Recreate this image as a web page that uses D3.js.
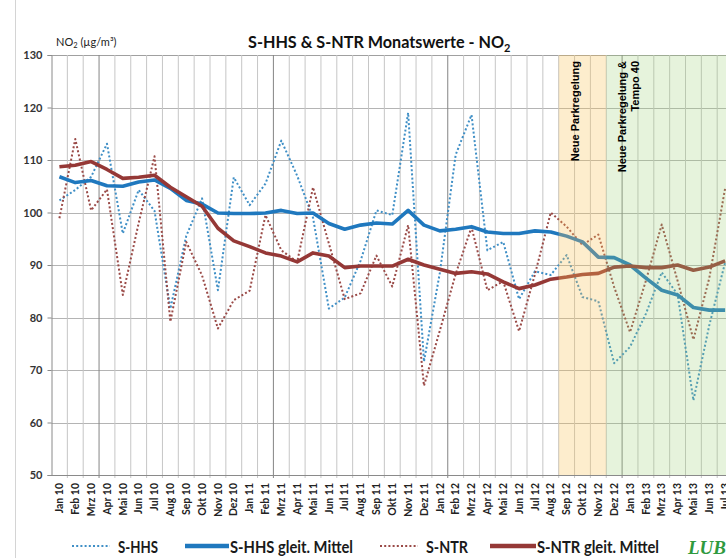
<!DOCTYPE html>
<html>
<head>
<meta charset="utf-8">
<script src="https://cdn.jsdelivr.net/npm/d3@7"></script>
<style>
  body { margin: 0; background: #fff; }
  svg { display: block; font-family: Lato, "Liberation Sans", sans-serif; }
</style>
</head>
<body>
<script>
//month labels (Jan 10 .. Jul 13)
var months = ["Jan 10","Feb 10","Mrz 10","Apr 10","Mai 10","Jun 10","Jul 10","Aug 10","Sep 10","Okt 10","Nov 10","Dez 10",
              "Jan 11","Feb 11","Mrz 11","Apr 11","Mai 11","Jun 11","Jul 11","Aug 11","Sep 11","Okt 11","Nov 11","Dez 11",
              "Jan 12","Feb 12","Mrz 12","Apr 12","Mai 12","Jun 12","Jul 12","Aug 12","Sep 12","Okt 12","Nov 12","Dez 12",
              "Jan 13","Feb 13","Mrz 13","Apr 13","Mai 13","Jun 13","Jul 13"];

//monthly values S-HHS
var shhs = [102.3,104.3,106.8,113.1,96.0,104.3,100.3,81.7,95.5,102.7,85.2,106.7,
            101.4,105.5,113.7,107.0,99.0,81.7,83.8,90.8,100.4,99.5,119.0,71.6,
            88.5,111.0,118.6,92.8,94.4,83.5,88.8,88.1,91.9,83.9,83.1,71.3,
            74.4,80.7,88.6,84.4,64.2,78.5,90.5];

//moving average S-HHS
var shhsAvg = [106.8,105.7,106.1,105.1,105.0,105.8,106.2,104.6,102.3,101.6,99.9,99.8,
               99.8,99.9,100.4,99.8,99.9,97.9,96.8,97.6,98.0,97.8,100.4,97.6,
               96.5,96.8,97.3,96.3,96.0,96.0,96.5,96.3,95.5,94.4,91.5,91.4,
               90.0,87.5,85.2,84.3,81.9,81.4,81.4];

//monthly values S-NTR
var sntr = [98.9,114.0,100.4,104.4,84.3,98.0,110.7,79.2,94.4,88.0,77.9,83.3,
            85.1,99.5,92.8,90.6,104.8,94.1,83.5,84.6,91.8,85.9,97.6,67.0,
            77.5,88.3,97.2,85.2,86.9,77.4,88.2,100.0,97.3,93.8,95.8,85.8,
            77.2,87.0,97.7,87.0,75.8,87.5,104.6];

//moving average S-NTR
var sntrAvg = [108.7,109.0,109.7,108.2,106.5,106.7,107.1,104.8,103.0,101.2,97.0,94.6,
               93.5,92.3,91.7,90.6,92.3,91.7,89.5,89.8,89.8,89.8,91.1,90.0,
               89.2,88.4,88.7,88.3,86.8,85.5,86.2,87.3,87.7,88.2,88.4,89.6,
               89.8,89.5,89.5,90.0,89.0,89.6,90.8];

var yTicks = [50, 60, 70, 80, 90, 100, 110, 120, 130];

//measure periods
var periodYellow = { from: "Sep 12", to: "Nov 12", label: ["Neue Parkregelung"] };
var periodGreen  = { from: "Dez 12", to: "Jul 13", label: ["Neue Parkregelung &", "Tempo 40"] };

var svgW = 726, svgH = 558;
var plotL = 51.5, plotT = 55, plotB = 475, band = 15.85;
var plotR = plotL + months.length * band;

var svg = d3.select("body").append("svg")
  .attr("width", svgW)
  .attr("height", svgH);

//outer frame line
svg.append("line")
  .attr("x1", 15.5).attr("x2", 15.5).attr("y1", 0).attr("y2", svgH)
  .attr("stroke", "#d4d4d4");

var x = d3.scaleBand().domain(months).range([plotL, plotR]);
var y = d3.scaleLinear().domain([50, 130]).range([plotB, plotT]);

//horizontal gridlines
svg.append("g").selectAll("line")
  .data(yTicks)
  .enter().append("line")
  .attr("x1", plotL).attr("x2", plotR)
  .attr("y1", function(d){ return Math.round(y(d)) + 0.5; })
  .attr("y2", function(d){ return Math.round(y(d)) + 0.5; })
  .attr("stroke", function(d){ return d == 130 ? "#a0a0a0" : "#b4b4b4"; })
  .attr("stroke-width", 1);

//vertical gridlines at month boundaries
svg.append("g").selectAll("line")
  .data(d3.range(1, months.length + 1))
  .enter().append("line")
  .attr("x1", function(i){ return plotL + i * band; })
  .attr("x2", function(i){ return plotL + i * band; })
  .attr("y1", plotT).attr("y2", plotB + 3)
  .attr("stroke", function(i){ return (i - 3) % 11 == 0 ? "#858585" : "#c6c6c6"; })
  .attr("stroke-width", 1);

//y axis
var yAxis = svg.append("g")
  .attr("transform", "translate(" + plotL + ",0)")
  .call(d3.axisLeft(y).tickValues(yTicks).tickSize(4).tickPadding(5));
yAxis.select(".domain").attr("stroke", "#8a8a8a");
yAxis.selectAll(".tick line").attr("stroke", "#8a8a8a");
yAxis.selectAll("text")
  .style("font-family", "Lato, sans-serif")
  .style("font-size", "11px")
  .style("font-weight", "bold")
  .attr("fill", "#333");

//x axis
var xAxis = svg.append("g")
  .attr("transform", "translate(0," + plotB + ")")
  .call(d3.axisBottom(x).tickSize(0));
xAxis.select(".domain").attr("stroke", "#8a8a8a");
xAxis.selectAll("text")
  .attr("transform", "rotate(-90)")
  .attr("x", -8)
  .attr("y", 0)
  .attr("dy", "0.35em")
  .style("text-anchor", "end")
  .style("font-family", "Lato, sans-serif")
  .style("font-size", "10.5px")
  .style("font-weight", "bold")
  .attr("fill", "#222");

//lines
var line = d3.line()
  .x(function(d, i){ return x(months[i]) + x.bandwidth() / 2; })
  .y(function(d){ return y(d); });

var series = [
  { data: shhs,    color: "#3f8fc6", width: 2,   dash: "2,2.2" },
  { data: sntr,    color: "#9a4a47", width: 2,   dash: "2,2.2" },
  { data: shhsAvg, color: "#1f78be", width: 3.6, dash: null },
  { data: sntrAvg, color: "#953836", width: 3.6, dash: null }
];

svg.append("g").selectAll("path")
  .data(series)
  .enter().append("path")
  .attr("d", function(s){ return line(s.data); })
  .attr("fill", "none")
  .attr("stroke", function(s){ return s.color; })
  .attr("stroke-width", function(s){ return s.width; })
  .attr("stroke-dasharray", function(s){ return s.dash; })
  .attr("stroke-linejoin", "round");

//shaded periods (drawn over the lines, translucent)
svg.append("rect")
  .attr("x", x(periodYellow.from))
  .attr("y", plotT)
  .attr("width", x(periodYellow.to) + x.bandwidth() - x(periodYellow.from))
  .attr("height", plotB - plotT)
  .attr("fill", "#f8c55a")
  .attr("opacity", 0.3);

svg.append("rect")
  .attr("x", x(periodGreen.from))
  .attr("y", plotT)
  .attr("width", plotR - x(periodGreen.from))
  .attr("height", plotB - plotT)
  .attr("fill", "#9bcf73")
  .attr("opacity", 0.25);

//period labels
svg.append("text")
  .attr("transform", "translate(575,61) rotate(-90)")
  .attr("dy", "0.35em")
  .style("text-anchor", "end")
  .style("font-family", "'Liberation Sans', Arial, sans-serif")
  .style("font-size", "11px")
  .style("font-weight", "bold")
  .text(periodYellow.label[0]);

periodGreen.label.forEach(function(t, k){
  svg.append("text")
    .attr("transform", "translate(" + (622 + k * 13) + ",61) rotate(-90)")
    .attr("dy", "0.35em")
    .style("text-anchor", "end")
    .style("font-family", "'Liberation Sans', Arial, sans-serif")
    .style("font-size", "11px")
    .style("font-weight", "bold")
    .text(t);
});

//title
var title = svg.append("text")
  .attr("x", 248)
  .attr("y", 48)
  .style("font-size", "17px")
  .style("font-weight", "bold")
  .attr("fill", "#111");
title.append("tspan")
  .attr("textLength", 256)
  .attr("lengthAdjust", "spacingAndGlyphs")
  .text("S-HHS & S-NTR Monatswerte - NO");
title.append("tspan").attr("dy", 4).style("font-size", "11px").text("2");

//unit label
var unit = svg.append("text")
  .attr("x", 56)
  .attr("y", 46)
  .style("font-size", "11px")
  .attr("fill", "#222");
unit.append("tspan").text("NO");
unit.append("tspan").attr("dy", 2).style("font-size", "7.5px").text("2");
unit.append("tspan").attr("dy", -2).text(" (µg/m³)");

//legend
var legend = [
  { name: "S-HHS",               s: series[0], x: 72,  len: 38, tw: 40 },
  { name: "S-HHS gleit. Mittel", s: series[2], x: 185, len: 44, tw: 123 },
  { name: "S-NTR",               s: series[1], x: 380, len: 38, tw: 42 },
  { name: "S-NTR gleit. Mittel", s: series[3], x: 490, len: 46, tw: 122 }
];
var lg = svg.append("g").selectAll("g")
  .data(legend)
  .enter().append("g");
lg.append("line")
  .attr("x1", function(d){ return d.x; })
  .attr("x2", function(d){ return d.x + d.len; })
  .attr("y1", 546).attr("y2", 546)
  .attr("stroke", function(d){ return d.s.color; })
  .attr("stroke-width", function(d){ return d.s.dash ? 2 : 4.5; })
  .attr("stroke-dasharray", function(d){ return d.s.dash; });
lg.append("text")
  .attr("x", function(d){ return d.x + d.len + (d.s.dash ? 8 : 1); })
  .attr("y", 553)
  .attr("textLength", function(d){ return d.tw; })
  .attr("lengthAdjust", "spacingAndGlyphs")
  .style("font-size", "17px")
  .style("font-weight", "bold")
  .attr("fill", "#1a1a1a")
  .text(function(d){ return d.name; });

//logo text (cut at the right edge)
svg.append("text")
  .attr("x", 688)
  .attr("y", 554)
  .style("font-family", "'Liberation Serif', serif")
  .style("font-size", "19px")
  .style("font-style", "italic")
  .style("font-weight", "bold")
  .attr("fill", "#2f9a3e")
  .text("LUBW");
</script>
</body>
</html>
